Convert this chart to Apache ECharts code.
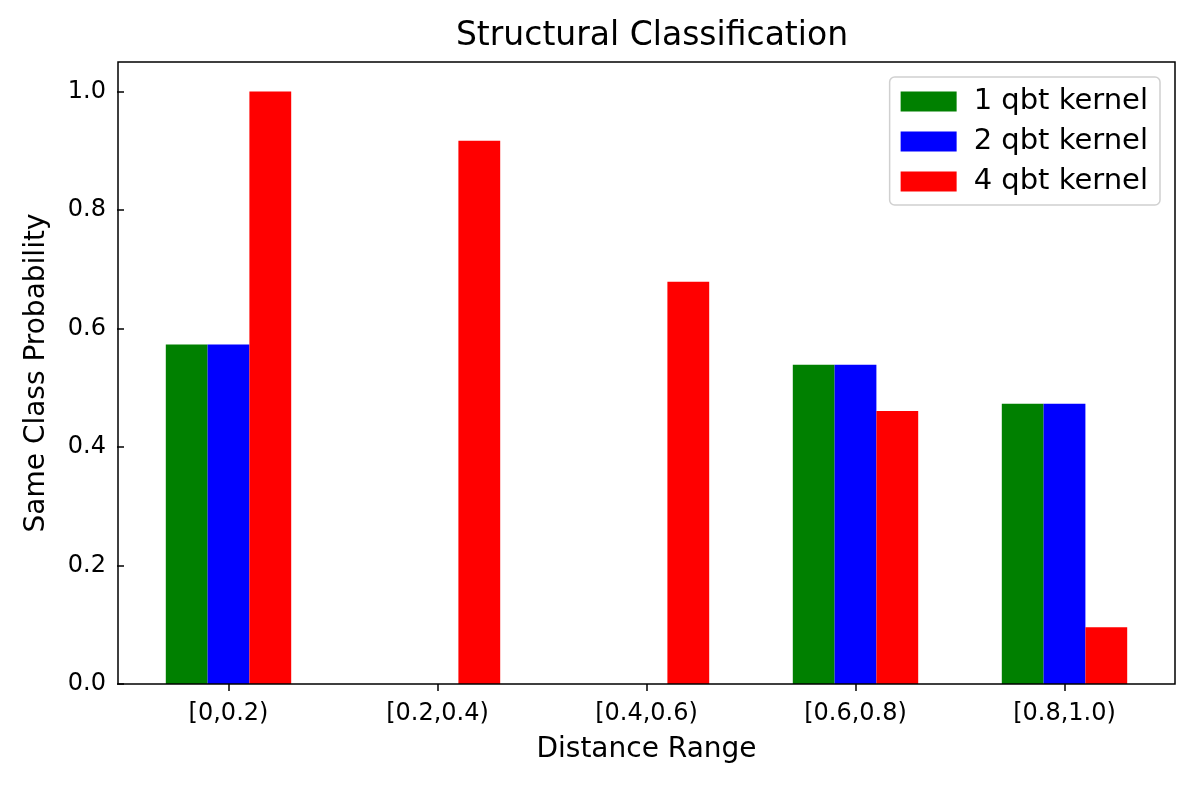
<!DOCTYPE html>
<html><head><meta charset="utf-8">
<script src="https://cdn.jsdelivr.net/npm/echarts@6/dist/echarts.min.js"></script>
<style>html,body{margin:0;padding:0;background:#fff}#c{width:1196px;height:787px}</style>
</head><body><div id="c"></div>
<script>
const categories = ['[0,0.2)', '[0.2,0.4)', '[0.4,0.6)', '[0.6,0.8)', '[0.8,1.0)'];
const seriesNames = ['1 qbt kernel', '2 qbt kernel', '4 qbt kernel'];
const qbt1 = [0.573, 0, 0, 0.539, 0.473];
const qbt2 = [0.573, 0, 0, 0.539, 0.473];
const qbt4 = [1.0, 0.917, 0.679, 0.461, 0.096];
const yTicks = [0, 0.2, 0.4, 0.6, 0.8, 1.0];
const colors = ['#008000', '#0000ff', '#ff0000'];

const font = 'DejaVu Sans';
const chart = echarts.init(document.getElementById('c'), null, {renderer: 'canvas'});
const mk = (name, data, color) => ({
  name, type: 'bar', data, barWidth: '20%', barGap: '0%',
  itemStyle: {color}, xAxisIndex: 0, yAxisIndex: 0, silent: true
});
chart.setOption({
  animation: false,
  backgroundColor: '#fff',
  title: {text: 'Structural Classification', left: 647, top: 15, textAlign: 'center',
    textStyle: {fontFamily: font, fontSize: 33, fontWeight: 'normal', color: '#000'}},
  legend: {
    orient: 'vertical', right: 36, top: 77, data: seriesNames,
    itemWidth: 56, itemHeight: 20, itemGap: 11,
    padding: [10, 12, 9, 11],
    borderColor: '#d0d0d0', borderWidth: 1.5, borderRadius: 5,
    backgroundColor: 'rgba(255,255,255,0.8)',
    textStyle: {fontFamily: font, fontSize: 29, color: '#000', padding: [0, 0, 0, 12]},
    icon: 'rect'
  },
  grid: [
    {left: 124, right: 27, top: 62, bottom: 103, containLabel: false},
    {left: 118, right: 21, top: 62, bottom: 103, show: true, borderColor: '#000', borderWidth: 1.5, backgroundColor: 'transparent', z: 5}
  ],
  xAxis: [
    {type: 'category', data: categories, gridIndex: 0, boundaryGap: true,
     name: 'Distance Range', nameLocation: 'middle', nameGap: 52,
     nameTextStyle: {fontFamily: font, fontSize: 28, color: '#000'},
     axisLine: {show: false},
     axisTick: {show: true, alignWithLabel: true, length: 7, lineStyle: {color: '#000', width: 1.5}},
     axisLabel: {fontFamily: font, fontSize: 24, color: '#000', margin: 18}},
    {type: 'value', gridIndex: 1, show: false, min: 0, max: 1}
  ],
  yAxis: [
    {type: 'value', gridIndex: 0, min: 0, max: 1.05, interval: 0.2,
     name: 'Same Class Probability', nameLocation: 'middle', nameGap: 73,
     nameTextStyle: {fontFamily: font, fontSize: 28, color: '#000'},
     splitLine: {show: false},
     axisLine: {show: false},
     axisTick: {show: true, length: 7, lineStyle: {color: '#000', width: 1.5}, customValues: yTicks},
     axisLabel: {fontFamily: font, fontSize: 24, color: '#000', margin: 18, customValues: yTicks,
       formatter: v => v.toFixed(1)}},
    {type: 'value', gridIndex: 1, show: false, min: 0, max: 1}
  ],
  series: [
    mk(seriesNames[0], qbt1, colors[0]),
    mk(seriesNames[1], qbt2, colors[1]),
    mk(seriesNames[2], qbt4, colors[2])
  ]
});
</script></body></html>
